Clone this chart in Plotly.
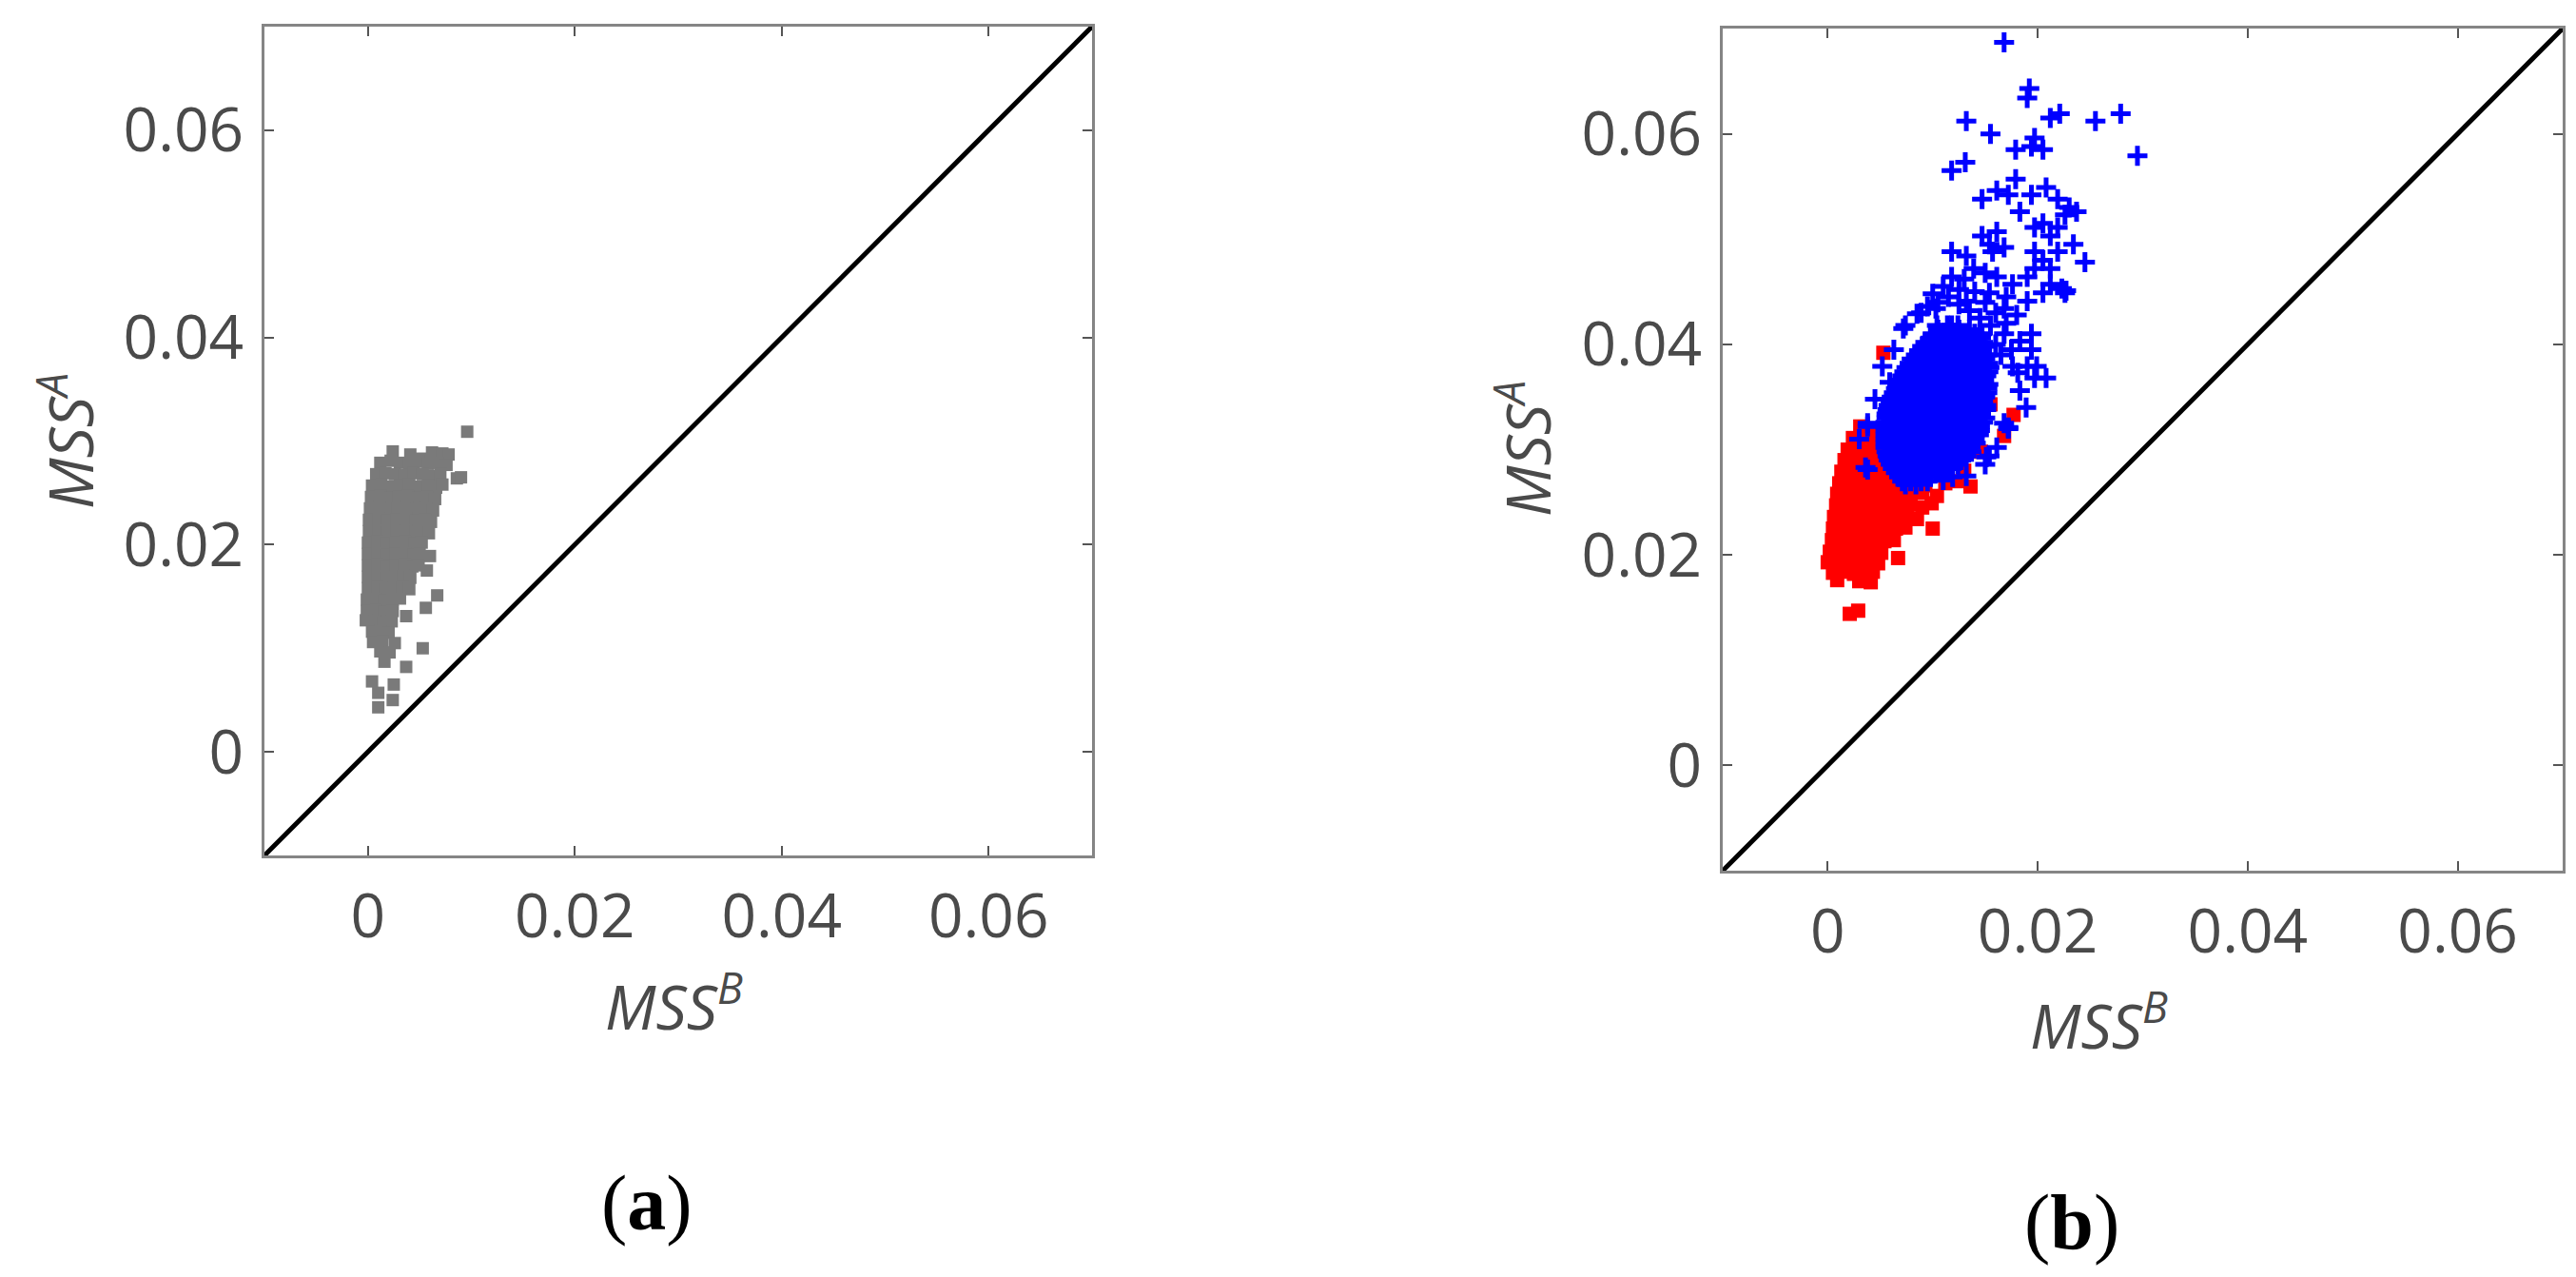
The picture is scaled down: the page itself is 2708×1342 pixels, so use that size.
import plotly.graph_objects as go

# Panel (a): gray squares, MSS^B vs MSS^A
gray_pts = [
    (0.0096, 0.0309),
    (0.0024, 0.0290), (0.0041, 0.0287), (0.0052, 0.0283), (0.0062, 0.0289), (0.0072, 0.0288), (0.0078, 0.0287),
    (0.0012, 0.0279), (0.0022, 0.0281), (0.0031, 0.0279), (0.0040, 0.0278), (0.0049, 0.0280), (0.0058, 0.0278), (0.0067, 0.0279), (0.0076, 0.0277),
    (0.0008, 0.0268), (0.0017, 0.0269), (0.0026, 0.0268), (0.0035, 0.0267), (0.0044, 0.0269), (0.0053, 0.0268), (0.0062, 0.0266), (0.0070, 0.0268), (0.0086, 0.0264), (0.0090, 0.0265),
    (0.0004, 0.0257), (0.0013, 0.0258), (0.0022, 0.0256), (0.0031, 0.0257), (0.0040, 0.0258), (0.0049, 0.0256), (0.0058, 0.0257), (0.0066, 0.0255), (0.0072, 0.0258),
    (0.0003, 0.0246), (0.0012, 0.0247), (0.0021, 0.0245), (0.0030, 0.0246), (0.0039, 0.0247), (0.0048, 0.0245), (0.0057, 0.0246), (0.0065, 0.0244),
    (0.0002, 0.0235), (0.0011, 0.0236), (0.0020, 0.0234), (0.0029, 0.0235), (0.0038, 0.0236), (0.0047, 0.0234), (0.0056, 0.0235), (0.0063, 0.0233),
    (0.0001, 0.0224), (0.0010, 0.0225), (0.0019, 0.0223), (0.0028, 0.0224), (0.0037, 0.0225), (0.0046, 0.0223), (0.0055, 0.0224), (0.0061, 0.0222),
    (0.0001, 0.0213), (0.0010, 0.0214), (0.0019, 0.0212), (0.0028, 0.0213), (0.0037, 0.0214), (0.0046, 0.0212), (0.0054, 0.0213), (0.0059, 0.0211),
    (0.0000, 0.0202), (0.0009, 0.0203), (0.0018, 0.0201), (0.0027, 0.0202), (0.0036, 0.0203), (0.0045, 0.0201), (0.0052, 0.0202),
    (0.0000, 0.0191), (0.0009, 0.0192), (0.0018, 0.0190), (0.0027, 0.0191), (0.0036, 0.0192), (0.0044, 0.0190), (0.0050, 0.0191), (0.0060, 0.0189),
    (0.0000, 0.0180), (0.0009, 0.0181), (0.0018, 0.0179), (0.0027, 0.0180), (0.0035, 0.0181), (0.0043, 0.0179), (0.0049, 0.0180),
    (0.0000, 0.0169), (0.0009, 0.0170), (0.0018, 0.0168), (0.0026, 0.0169), (0.0034, 0.0170), (0.0041, 0.0168), (0.0057, 0.0175),
    (0.0000, 0.0158), (0.0009, 0.0159), (0.0017, 0.0157), (0.0025, 0.0158), (0.0033, 0.0159), (0.0040, 0.0157),
    (-0.0001, 0.0147), (0.0008, 0.0148), (0.0016, 0.0146), (0.0024, 0.0147), (0.0031, 0.0148), (0.0067, 0.0151),
    (-0.0001, 0.0136), (0.0008, 0.0137), (0.0016, 0.0135), (0.0024, 0.0136), (0.0056, 0.0139),
    (-0.0002, 0.0127), (0.0007, 0.0126), (0.0015, 0.0125), (0.0023, 0.0126), (0.0037, 0.0131),
    (0.0004, 0.0116), (0.0012, 0.0117), (0.0020, 0.0115),
    (0.0005, 0.0106), (0.0014, 0.0107), (0.0026, 0.0105),
    (0.0012, 0.0097), (0.0021, 0.0096), (0.0053, 0.0100), (0.0016, 0.0087), (0.0037, 0.0082),
    (0.0004, 0.0068), (0.0025, 0.0065), (0.0010, 0.0057), (0.0024, 0.0050), (0.0010, 0.0043),
]

# Panel (b): red squares
red_pts = [
    (0.0031, 0.0322), (0.0040, 0.0320),
    (0.0024, 0.0311), (0.0034, 0.0312), (0.0044, 0.0310),
    (0.0019, 0.0300), (0.0029, 0.0301), (0.0039, 0.0299), (0.0049, 0.0300),
    (0.0016, 0.0290), (0.0026, 0.0289), (0.0036, 0.0291), (0.0046, 0.0290), (0.0056, 0.0288),
    (0.0013, 0.0279), (0.0023, 0.0280), (0.0033, 0.0278), (0.0043, 0.0279), (0.0053, 0.0280), (0.0063, 0.0278),
    (0.0011, 0.0268), (0.0021, 0.0269), (0.0031, 0.0267), (0.0041, 0.0268), (0.0051, 0.0269), (0.0061, 0.0267),
    (0.0071, 0.0268), (0.0081, 0.0267), (0.0093, 0.0266), (0.0112, 0.0268), (0.0124, 0.0270), (0.0136, 0.0265),
    (0.0009, 0.0258), (0.0019, 0.0257), (0.0029, 0.0259), (0.0039, 0.0258), (0.0049, 0.0257), (0.0059, 0.0259),
    (0.0069, 0.0258), (0.0079, 0.0257), (0.0090, 0.0259), (0.0104, 0.0256),
    (0.0008, 0.0247), (0.0018, 0.0248), (0.0028, 0.0246), (0.0038, 0.0247), (0.0048, 0.0248), (0.0058, 0.0246),
    (0.0068, 0.0247), (0.0078, 0.0248), (0.0090, 0.0245), (0.0099, 0.0249),
    (0.0006, 0.0236), (0.0016, 0.0237), (0.0026, 0.0235), (0.0036, 0.0236), (0.0046, 0.0237), (0.0056, 0.0235),
    (0.0066, 0.0236), (0.0076, 0.0237), (0.0085, 0.0234),
    (0.0005, 0.0225), (0.0015, 0.0226), (0.0025, 0.0224), (0.0035, 0.0225), (0.0045, 0.0226), (0.0055, 0.0224),
    (0.0065, 0.0225), (0.0074, 0.0226), (0.0100, 0.0225),
    (0.0004, 0.0214), (0.0014, 0.0215), (0.0024, 0.0213), (0.0034, 0.0214), (0.0044, 0.0215), (0.0054, 0.0213), (0.0063, 0.0214),
    (0.0002, 0.0203), (0.0012, 0.0204), (0.0022, 0.0202), (0.0032, 0.0203), (0.0042, 0.0204), (0.0051, 0.0202), (0.0067, 0.0197),
    (0.0000, 0.0193), (0.0010, 0.0194), (0.0020, 0.0192), (0.0030, 0.0193), (0.0040, 0.0194), (0.0048, 0.0192),
    (0.0005, 0.0183), (0.0015, 0.0184), (0.0025, 0.0182), (0.0035, 0.0183), (0.0043, 0.0184),
    (0.0009, 0.0176), (0.0030, 0.0175), (0.0041, 0.0174),
    (0.0021, 0.0144), (0.0029, 0.0147),
    (0.0053, 0.0392), (0.0177, 0.0333), (0.0168, 0.0313), (0.0155, 0.0343), (0.0146, 0.0298),
    (0.0060, 0.0300), (0.0080, 0.0290), (0.0100, 0.0280), (0.0120, 0.0290), (0.0140, 0.0310),
    (0.0070, 0.0320), (0.0110, 0.0300), (0.0130, 0.0280),
]

# Panel (b): blue crosses, dense core given row by row (MSS^A, list of MSS^B)
blue_core_rows = [
    (0.0418, [0.0104, 0.0114, 0.0124]),
    (0.0414, [0.0105, 0.0115, 0.0125, 0.0135]),
    (0.0410, [0.0100, 0.0110, 0.0120, 0.0130, 0.0140]),
    (0.0406, [0.0098, 0.0108, 0.0118, 0.0128, 0.0138, 0.0146]),
    (0.0402, [0.0093, 0.0103, 0.0113, 0.0123, 0.0133, 0.0143, 0.0148]),
    (0.0398, [0.0090, 0.0100, 0.0110, 0.0120, 0.0130, 0.0140, 0.0149]),
    (0.0394, [0.0087, 0.0097, 0.0107, 0.0117, 0.0127, 0.0137, 0.0147]),
    (0.0390, [0.0084, 0.0094, 0.0104, 0.0114, 0.0124, 0.0134, 0.0144, 0.0152]),
    (0.0386, [0.0080, 0.0090, 0.0100, 0.0110, 0.0120, 0.0130, 0.0140, 0.0150]),
    (0.0382, [0.0078, 0.0088, 0.0098, 0.0108, 0.0118, 0.0128, 0.0138, 0.0148, 0.0153]),
    (0.0378, [0.0075, 0.0085, 0.0095, 0.0105, 0.0115, 0.0125, 0.0135, 0.0145, 0.0154]),
    (0.0374, [0.0073, 0.0083, 0.0093, 0.0103, 0.0113, 0.0123, 0.0133, 0.0143, 0.0153]),
    (0.0370, [0.0071, 0.0081, 0.0091, 0.0101, 0.0111, 0.0121, 0.0131, 0.0141, 0.0151]),
    (0.0366, [0.0069, 0.0079, 0.0089, 0.0099, 0.0109, 0.0119, 0.0129, 0.0139, 0.0149]),
    (0.0362, [0.0067, 0.0076, 0.0086, 0.0096, 0.0106, 0.0116, 0.0126, 0.0136, 0.0146, 0.0153]),
    (0.0358, [0.0065, 0.0074, 0.0084, 0.0094, 0.0104, 0.0114, 0.0124, 0.0134, 0.0144, 0.0152]),
    (0.0354, [0.0063, 0.0072, 0.0082, 0.0092, 0.0102, 0.0112, 0.0122, 0.0132, 0.0142, 0.0152]),
    (0.0350, [0.0061, 0.0070, 0.0080, 0.0090, 0.0100, 0.0110, 0.0120, 0.0130, 0.0140, 0.0150]),
    (0.0346, [0.0060, 0.0068, 0.0078, 0.0088, 0.0098, 0.0108, 0.0118, 0.0128, 0.0138, 0.0148]),
    (0.0342, [0.0058, 0.0063, 0.0073, 0.0083, 0.0093, 0.0103, 0.0113, 0.0123, 0.0133, 0.0143, 0.0151]),
    (0.0338, [0.0057, 0.0065, 0.0075, 0.0085, 0.0095, 0.0105, 0.0115, 0.0125, 0.0135, 0.0145, 0.0151]),
    (0.0334, [0.0056, 0.0066, 0.0076, 0.0086, 0.0096, 0.0106, 0.0116, 0.0126, 0.0136, 0.0146]),
    (0.0330, [0.0056, 0.0061, 0.0071, 0.0081, 0.0091, 0.0101, 0.0111, 0.0121, 0.0131, 0.0141, 0.0150]),
    (0.0326, [0.0055, 0.0060, 0.0070, 0.0080, 0.0090, 0.0100, 0.0110, 0.0120, 0.0130, 0.0140, 0.0148]),
    (0.0322, [0.0055, 0.0065, 0.0075, 0.0085, 0.0095, 0.0105, 0.0115, 0.0125, 0.0135, 0.0145]),
    (0.0318, [0.0055, 0.0065, 0.0075, 0.0085, 0.0095, 0.0105, 0.0115, 0.0125, 0.0135, 0.0145]),
    (0.0314, [0.0055, 0.0060, 0.0070, 0.0080, 0.0090, 0.0100, 0.0110, 0.0120, 0.0130, 0.0140, 0.0144]),
    (0.0310, [0.0055, 0.0060, 0.0070, 0.0080, 0.0090, 0.0100, 0.0110, 0.0120, 0.0130, 0.0140]),
    (0.0306, [0.0055, 0.0065, 0.0075, 0.0085, 0.0095, 0.0105, 0.0115, 0.0125, 0.0135, 0.0141]),
    (0.0302, [0.0055, 0.0066, 0.0076, 0.0086, 0.0096, 0.0106, 0.0116, 0.0126, 0.0136]),
    (0.0298, [0.0056, 0.0061, 0.0071, 0.0081, 0.0091, 0.0101, 0.0111, 0.0121, 0.0131, 0.0137]),
    (0.0294, [0.0057, 0.0062, 0.0072, 0.0082, 0.0092, 0.0102, 0.0112, 0.0122, 0.0132]),
    (0.0290, [0.0058, 0.0067, 0.0077, 0.0087, 0.0097, 0.0107, 0.0117, 0.0127]),
    (0.0286, [0.0060, 0.0067, 0.0077, 0.0087, 0.0097, 0.0107, 0.0117, 0.0124]),
    (0.0282, [0.0062, 0.0072, 0.0082, 0.0092, 0.0102, 0.0112, 0.0118]),
    (0.0278, [0.0065, 0.0073, 0.0083, 0.0093, 0.0103, 0.0110]),
    (0.0274, [0.0068, 0.0078, 0.0088, 0.0098]),
    (0.0270, [0.0071, 0.0079, 0.0089, 0.0095]),
    (0.0267, [0.0074, 0.0084]),
]

# Panel (b): blue crosses outside the core
blue_pts = [
    (0.0168, 0.0687), (0.0192, 0.0643), (0.0190, 0.0634), (0.0132, 0.0612), (0.0155, 0.0600),
    (0.0221, 0.0619), (0.0212, 0.0615), (0.0255, 0.0612), (0.0279, 0.0619), (0.0295, 0.0579),
    (0.0197, 0.0596), (0.0194, 0.0588), (0.0179, 0.0585), (0.0205, 0.0585), (0.0118, 0.0565),
    (0.0131, 0.0573), (0.0179, 0.0557), (0.0208, 0.0549), (0.0219, 0.0538), (0.0237, 0.0526),
    (0.0230, 0.0530), (0.0147, 0.0538), (0.0161, 0.0546), (0.0172, 0.0542), (0.0197, 0.0511),
    (0.0205, 0.0515), (0.0212, 0.0503), (0.0219, 0.0511), (0.0245, 0.0478), (0.0118, 0.0488),
    (0.0132, 0.0484), (0.0154, 0.0495), (0.0168, 0.0492), (0.0197, 0.0488), (0.0205, 0.0480),
    (0.0223, 0.0453), (0.0226, 0.0449), (0.0212, 0.0457), (0.0208, 0.0368), (0.0189, 0.0340),
    (0.0168, 0.0325), (0.0154, 0.0294), (0.0038, 0.0325), (0.0036, 0.0283), (0.0074, 0.0418),
    (0.0089, 0.0430),
    (0.0118, 0.0464), (0.0139, 0.0472), (0.0161, 0.0464), (0.0176, 0.0457), (0.0190, 0.0464),
    (0.0132, 0.0441), (0.0154, 0.0449), (0.0168, 0.0434), (0.0190, 0.0441), (0.0205, 0.0449),
    (0.0103, 0.0434), (0.0118, 0.0418), (0.0147, 0.0410), (0.0168, 0.0410), (0.0183, 0.0403),
    (0.0194, 0.0395), (0.0176, 0.0379), (0.0190, 0.0379), (0.0197, 0.0368), (0.0183, 0.0356),
    (0.0157, 0.0488), (0.0147, 0.0503), (0.0161, 0.0507), (0.0183, 0.0526), (0.0194, 0.0542),
    (0.0226, 0.0523), (0.0234, 0.0495), (0.0219, 0.0488), (0.0212, 0.0472), (0.0197, 0.0472),
    (0.0063, 0.0395), (0.0052, 0.0379), (0.0059, 0.0364), (0.0045, 0.0348), (0.0030, 0.0310),
    (0.0110, 0.0271), (0.0132, 0.0275), (0.0150, 0.0286), (0.0161, 0.0302), (0.0172, 0.0321),
    (0.0072, 0.0415), (0.0085, 0.0429), (0.0095, 0.0436), (0.0038, 0.0322), (0.0038, 0.0281),
    (0.0172, 0.0320), (0.0151, 0.0293), (0.0199, 0.0379), (0.0181, 0.0373), (0.0227, 0.0451),
    (0.0107, 0.0278), (0.0119, 0.0274), (0.0194, 0.0410),
    (0.0105, 0.0440), (0.0115, 0.0445), (0.0125, 0.0438), (0.0135, 0.0432), (0.0145, 0.0425),
    (0.0155, 0.0418), (0.0160, 0.0400), (0.0165, 0.0390), (0.0175, 0.0395), (0.0110, 0.0455),
    (0.0125, 0.0452), (0.0140, 0.0450), (0.0150, 0.0440), (0.0160, 0.0430), (0.0170, 0.0420),
    (0.0180, 0.0428), (0.0100, 0.0448), (0.0130, 0.0462), (0.0150, 0.0468), (0.0170, 0.0445),
]

# identity line and axis ticks
diag = [-0.01, 0.07]
tick_vals = [0, 0.02, 0.04, 0.06]
tick_text = ['0', '0.02', '0.04', '0.06']

blue_x = [x for _, xs in blue_core_rows for x in xs] + [p[0] for p in blue_pts]
blue_y = [y for y, xs in blue_core_rows for _ in xs] + [p[1] for p in blue_pts]

W, H = 2708, 1342
TICK_FONT = dict(family='Open Sans', size=64, color='#4a4a4a')

fig = go.Figure()

# left panel
fig.add_trace(go.Scatter(x=diag, y=diag, mode='lines', line=dict(color='black', width=5),
                         xaxis='x', yaxis='y'))
fig.add_trace(go.Scatter(x=[p[0] for p in gray_pts], y=[p[1] for p in gray_pts], mode='markers',
                         marker=dict(symbol='square', size=13, color='#7a7a7a'),
                         xaxis='x', yaxis='y'))

# right panel
fig.add_trace(go.Scatter(x=diag, y=diag, mode='lines', line=dict(color='black', width=5),
                         xaxis='x2', yaxis='y2'))
fig.add_trace(go.Scatter(x=[p[0] for p in red_pts], y=[p[1] for p in red_pts], mode='markers',
                         marker=dict(symbol='square', size=15, color='#ff0000'),
                         xaxis='x2', yaxis='y2'))
fig.add_trace(go.Scatter(x=blue_x, y=blue_y, mode='markers',
                         marker=dict(symbol='cross-thin', size=15, color='#0000ff',
                                     line=dict(color='#0000ff', width=5)),
                         xaxis='x2', yaxis='y2'))


def axis_style(domain, anchor):
    return dict(
        domain=domain, anchor=anchor, range=[-0.01, 0.07],
        tickvals=tick_vals, ticktext=tick_text,
        ticks='inside', ticklen=10, tickwidth=2, tickcolor='#555555',
        showline=True, linecolor='#858585', linewidth=3, mirror='ticks',
        showgrid=False, zeroline=False, tickfont=TICK_FONT,
        ticklabelstandoff=6,
    )


fig.update_layout(
    width=W, height=H,
    margin=dict(l=0, r=0, t=0, b=0),
    plot_bgcolor='white', paper_bgcolor='white',
    showlegend=False,
    xaxis=axis_style([270 / W, 1140 / W], 'y'),
    yaxis=axis_style([1 - 891 / H, 1 - 20 / H], 'x'),
    xaxis2=axis_style([1803 / W, 2686 / W], 'y2'),
    yaxis2=axis_style([1 - 907 / H, 1 - 22 / H], 'x2'),
)

# axis titles and panel labels
title_font = dict(family='Open Sans', size=64, color='#4a4a4a')
label_font = dict(family='Liberation Serif', size=82, color='black')
notes = [
    dict(text='<i>MSS</i><sup><i>B</i></sup>', x=700 / W, y=1 - 1046 / H, font=title_font),
    dict(text='<i>MSS</i><sup><i>B</i></sup>', x=2198 / W, y=1 - 1066 / H, font=title_font),
    dict(text='<i>MSS</i><sup><i>A</i></sup>', x=62 / W, y=1 - 455 / H, font=title_font, textangle=-90),
    dict(text='<i>MSS</i><sup><i>A</i></sup>', x=1594 / W, y=1 - 464 / H, font=title_font, textangle=-90),
    dict(text='(<b>a</b>)', x=672 / W, y=1 - 1256 / H, font=label_font),
    dict(text='(<b>b</b>)', x=2170 / W, y=1 - 1276 / H, font=label_font),
]
for n in notes:
    fig.add_annotation(xref='paper', yref='paper', showarrow=False,
                       xanchor='center', yanchor='middle', **n)

fig.write_html("out.html")
